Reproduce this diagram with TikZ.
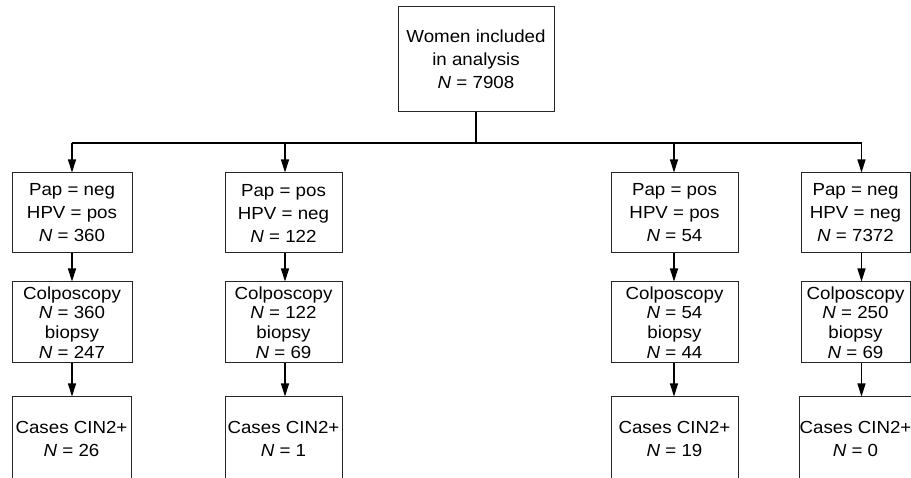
\documentclass[tikz,border=0pt]{standalone}
\usepackage{fontspec}
\setmainfont[FakeStretch=1.07]{Liberation Sans}
\usetikzlibrary{arrows.meta}
\begin{document}
\begin{tikzpicture}[x=1pt,y=-1pt,
  boxline/.style={draw=black!85, line width=1pt},
  box/.style={boxline, align=center, inner sep=0pt, font=\fontsize{17.5}{23}\selectfont},
  colpo/.style={box, font=\fontsize{17.5}{19.7}\selectfont, minimum height=81pt},
  pap/.style={box, minimum height=80pt},
  cases/.style={box, minimum height=84pt},
  conn/.style={line width=1.3pt},
  arr/.style={conn, -{Triangle[length=13pt,width=8pt]}}]
\clip (0,0) rectangle (911,478);
% top
\node[box, minimum width=156pt, minimum height=105pt] (top) at (476,59.5) {Women included\\in analysis\\\textit{N} = 7908};
% row 1
\node[pap, minimum width=120pt] (p1) at (72,213) {Pap = neg\\HPV = pos\\\textit{N} = 360};
\node[pap, minimum width=117pt] (p2) at (283.5,213) {Pap = pos\\HPV = neg\\\textit{N} = 122};
\node[pap, minimum width=127pt] (p3) at (674.5,213) {Pap = pos\\HPV = pos\\\textit{N} = 54};
\node[pap, minimum width=109pt] (p4) at (855.5,213) {Pap = neg\\HPV = neg\\\textit{N} = 7372};
% row 2
\node[colpo, minimum width=120pt] (k1) at (72,322.5) {Colposcopy\\\textit{N} = 360\\biopsy\\\textit{N} = 247};
\node[colpo, minimum width=117pt] (k2) at (283.5,322.5) {Colposcopy\\\textit{N} = 122\\biopsy\\\textit{N} = 69};
\node[colpo, minimum width=127pt] (k3) at (674.5,322.5) {Colposcopy\\\textit{N} = 54\\biopsy\\\textit{N} = 44};
\node[colpo, minimum width=109pt] (k4) at (855.5,322.5) {Colposcopy\\\textit{N} = 250\\biopsy\\\textit{N} = 69};
% row 3
\node[cases, minimum width=119pt] (c1) at (71.5,439) {Cases CIN2+\\\textit{N} = 26};
\node[cases, minimum width=117pt] (c2) at (283.5,439) {Cases CIN2+\\\textit{N} = 1};
\node[cases, minimum width=127pt] (c3) at (674.5,439) {Cases CIN2+\\\textit{N} = 19};
\node[cases, draw=none, minimum width=109pt] (c4) at (855.5,439) {Cases CIN2+\\\textit{N} = 0};
\draw[boxline] (c4.south west) -- (c4.north west) -- ++(140,0);
% bus
\coordinate (b1) at (72,143);
\coordinate (b2) at (285,143);
\coordinate (b3) at (674,143);
\coordinate (b4) at (861.5,143);
\draw[conn] (top.south) -- (top.south |- b1);
\draw[conn] (b1) -- (b4);
\draw[arr] (b1) -- (b1 |- p1.north);
\draw[arr] (b2) -- (b2 |- p2.north);
\draw[arr] (b3) -- (b3 |- p3.north);
\draw[arr] (b4) -- (b4 |- p4.north);
\draw[arr] (p1.south -| b1) -- (k1.north -| b1);
\draw[arr] (p2.south -| b2) -- (k2.north -| b2);
\draw[arr] (p3.south -| b3) -- (k3.north -| b3);
\draw[arr] (p4.south -| b4) -- (k4.north -| b4);
\draw[arr] (k1.south -| b1) -- (c1.north -| b1);
\draw[arr] (k2.south -| b2) -- (c2.north -| b2);
\draw[arr] (k3.south -| b3) -- (c3.north -| b3);
\draw[arr] (k4.south -| b4) -- (c4.north -| b4);
\end{tikzpicture}
\end{document}
